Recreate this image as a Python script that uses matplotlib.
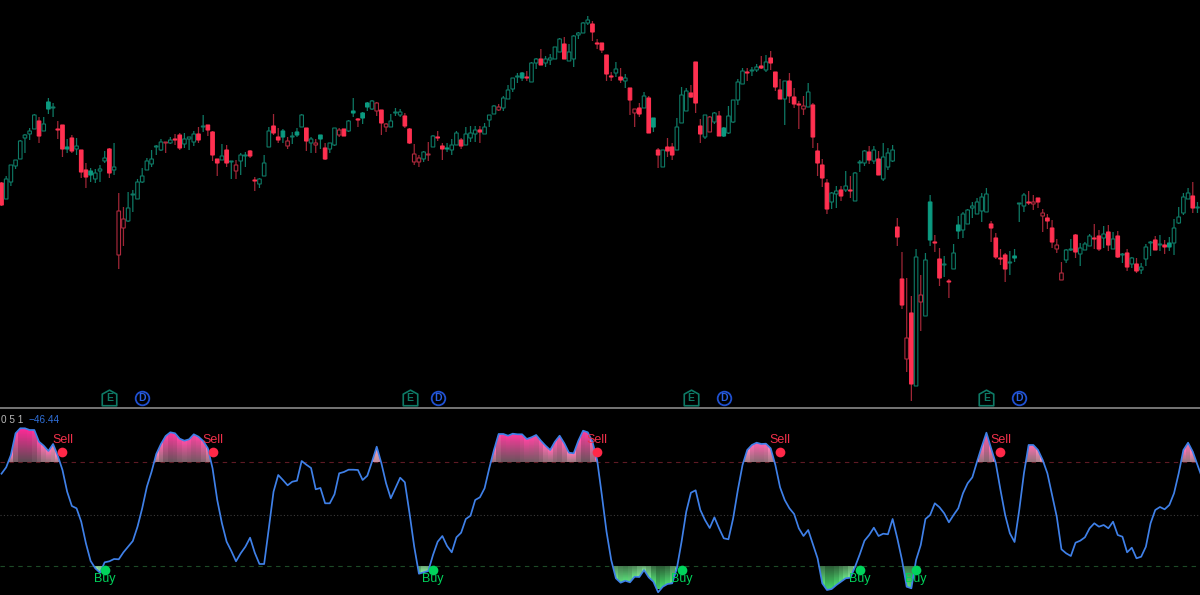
import numpy as np
import matplotlib
matplotlib.use('Agg')
import matplotlib.pyplot as plt
from matplotlib.path import Path
from matplotlib.patches import PathPatch

plt.rcParams['font.family'] = ['Liberation Sans', 'DejaVu Sans']

# Candles: body top / bottom, wick high / low
# kinds: G hollow green, g solid green, R solid red, r hollow red
body_top = [217,221,235,240,259,265,269,285,279,276, 298,293,271,275,253,262,254,250,230,229,
            227,231,242,251,233,189,181,192,206,218, 224,239,241,254,258,258,260,261,265,261,
            263,266,266,274,275,268,241,244,250,239, 235,245,245,249,220,221,237,269,274,263,
            269,259,264,268, 285,272,261,257,265,252,257,272,270,271,
            279,289,281,287,297,299,297,290,276,279, 288,288,284,271,246,242,248,246,264,263,
            254,252,255,267,260,266,267,270,270,273, 285,294,293,302,310,322,324,327,323,337,
            341,341,341,342,353,361,356,348,364,367, 377,380,376,357,
            357,345,324,331,323,322,312,291,292,304, 302,282,250,250,253,253,273,305,309,307,
            338,274,285,283,287,284,272,284,300,318, 329,328,330,333,334,338,342,328,310,319,
            319,303,296,294,308,295,249,235,217,207, 209,210,214,210,227,238,249,248,250,241,
            243,247,250,
            173,121,62,87,143,105,140,198,158,141, 136,119,147,175,186,190,194,198,203,206,
            176,162,142,145,138,144,197,205,198,198, 202,187,182,172,155,127,150,151,165,152,
            156,164,162,164,166,168,161,164,146,147, 142,136,133,153,158,160,156,155,157,172,
            183,203,207,204,193]
body_bot = [195,201,218,234,241,262,266,271,264,269, 291,292,270,251,251,249,251,228,223,225,
            221,229,239,227,230,145,172,179,205,201, 218,230,236,253,250,257,257,260,252,256,
            261,258,260,273,270,245,237,240,237,238, 229,239,244,244,219,216,224,253,267,260,
            263,254,263,265, 273,259,257,255,261,241,251,255,265,264,
            269,287,280,282,293,291,289,277,273,273, 287,285,274,257,238,238,241,245,253,262,
            251,251,250,255,254,255,262,266,268,266, 280,286,290,292,301,311,323,322,322,318,
            337,335,337,340,341,348,341,339,341,365, 367,377,368,356,
            350,326,323,327,320,319,300,287,286,292, 267,273,245,233,249,245,250,277,289,303,
            297,266,263,268,278,264,264,267,278,300, 316,327,329,330,332,330,337,313,301,301,
            304,296,295,291,293,263,237,222,191,198, 206,204,210,209,199,237,237,240,239,225,
            221,233,239,
            163,95,41,16,14,98,84,160,157,122, 135,118,131,169,170,176,192,186,189,188,
            172,143,141,131,137,142,196,194,197,196, 198,184,179,158,151,120,140,150,148,146,
            150,154,161,151,162,155,151,143,145,133, 136,129,130,141,157,150,155,153,153,157,
            177,187,201,192,192]
wick_high = [218,224,235,240,260,266,272,286,283,283, 302,297,279,275,261,265,262,250,237,232,
             231,235,249,252,257,207,193,208,210,221, 232,242,250,255,261,258,263,266,267,267,
             263,269,273,285,275,269,241,256,255,239, 240,247,248,250,223,222,245,273,286,272,
             271,263,268,272, 286,272,263,261,265,257,257,272,272,271,
             280,302,282,288,298,300,298,290,277,286, 292,291,287,272,256,245,249,258,265,269,
             257,257,261,269,262,273,274,274,274,277, 285,295,296,304,315,322,327,328,329,338,
             342,351,344,346,353,362,363,356,365,368, 378,384,379,361,
             357,345,328,338,332,326,312,291,297,308, 304,282,252,250,262,257,282,313,312,315,
             338,281,285,284,288,289,273,294,300,321, 332,332,333,336,344,345,349,328,321,319,
             327,312,299,304,317,297,257,241,221,208, 214,214,229,224,228,240,250,254,254,249,
             257,252,255,
             182,148,122,104,151,125,147,205,165,152, 144,121,156,184,188,191,198,202,207,212,
             179,167,151,147,149,151,197,207,209,205, 202,191,186,180,161,138,151,161,166,157,
             158,166,176,170,174,175,168,169,147,151, 143,142,137,156,159,164,165,160,163,181,
             193,207,212,218,198]
wick_low = [194,201,214,231,241,247,260,271,257,269, 286,283,261,243,247,247,245,222,212,218,
            217,218,237,222,225,131,154,178,188,201, 217,230,233,245,249,247,256,255,250,252,
            250,254,257,268,264,239,224,240,233,221, 221,225,233,242,209,212,224,253,265,257,
            257,251,256,263, 273,249,247,247,251,240,247,254,263,264,
            268,283,273,276,289,290,284,265,268,273, 284,283,272,256,235,233,238,239,253,259,
            240,248,245,255,251,255,258,258,257,266, 273,286,289,289,301,308,317,319,319,318,
            331,335,333,335,341,348,341,339,333,361, 367,375,359,351,
            347,319,319,323,317,312,285,273,283,292, 267,268,232,233,243,240,250,277,289,302,
            287,257,261,268,276,264,263,266,277,295, 316,319,324,328,331,328,330,309,301,275,
            297,292,271,285,293,252,224,213,186,191, 192,199,208,202,199,228,234,236,236,225,
            219,230,238,
            154,91,28,-1,14,69,84,154,148,114, 123,102,131,161,162,176,182,186,178,188,
            158,141,135,118,125,138,178,188,195,190, 192,168,171,152,147,120,137,149,142,134,
            150,154,151,149,152,149,151,142,137,129, 132,127,126,134,144,150,149,146,149,145,
            176,185,201,187,187]
kinds = ('RGGGGGGGRG' 'gGRRgRGRRg' 'GGGRGrrGGG' 'GGGGGrGRRG' 'GGRGRRRGRG' 'rGGRRGGGRR' 'grGg'
         'GRGrgRGGrR' 'GgRggGrRrG' 'GGRRrrGrGR' 'RgGGRGGGRG' 'GGrGGGGgRG' 'GRGGGGRGGG' 'GGRR'
         'RRRGRGRrRG' 'RgRGRRGGGR' 'RRGrGRgGGG' 'GRGGRGRRRG' 'RRRrGRRRRG' 'GRGRGGGRGR' 'GGG'
         'RRrRGrGgRR' 'GRGgGGGGGG' 'RRRRGgGGRr' 'RrRRrrGGRG' 'GGRRGRGRGR' 'GRGGGRGRgG' 'GGGRG')

# Oscillator, one value per candle plus the last point cut off at the right edge
osc = [121.3,127.7,140,161.7,166.7,166.7,165,165,153.3,149.3,
       144,151,139.3,125,103.3,89,86.7,73.3,51.7,34,
       26.7,22.3,32.7,33.7,36,35.7,42.7,48.3,54,68.3,
       86.7,108.3,123.3,141,151,159,162.7,161.7,156.3,154.3,
       155.7,160.7,158.3,154,146.7,126.7,95,71.7,53.3,44,
       33.7,41.7,48.3,57.3,42.3,31,31,66.7,103.3,120,
       115,109.7,113.3,114.3,
       134,130.3,127,105.7,107,91.7,91.7,100.7,121.7,123,
       125.3,125.3,125,115,119.3,133.3,148.3,131.7,111.7,96.7,
       107,117.3,112.7,81.7,48.3,21.3,22.7,24,40,53.3,
       59,49,42.7,57.7,62.3,76,79.3,95,97.7,106.7,
       126.7,145,161,161,159.3,161.3,160.7,160.7,156,157.7,
       160,154.3,149.3,145,153.3,159.3,151.7,142.3,141.7,154.3,
       164.3,162.7,153.3,135,
       100,63.3,35,16.7,12.3,14.3,12.7,18.3,18,25,
       17.7,13.3,2.7,8.3,11,11.7,26.7,53.3,83.3,102.3,
       104.7,85,75,67,77.7,66.7,56.7,55.7,76.7,105,
       130,145,150,152.3,151,151.3,146.7,130,107.7,95,
       86.7,81,66.7,59,65,51,36.7,11.7,5,6,
       10,13.3,16.7,17.3,28.3,40.7,54.3,60,67.3,59,
       61.3,60.7,76,56.7,35,
       8.3,6.7,35,50,76,80,91.7,87.7,81.7,72.7,
       80,86.7,101.7,111.7,117.7,133.3,148.3,162.3,146.7,131.7,
       105,80,61.7,53,85,121.7,150,150,145,135,
       121.7,100,78.3,45.7,41.7,39,52.3,54.3,57.7,66.7,
       71.7,68.3,70,66.7,73.3,60,58.3,42.7,47.3,36.7,
       38.3,48.3,71.7,85,88,85.7,90,101.7,121.7,145,
       152.3,143.3,130,117]

level_high = 133
level_mid = 80.5
level_low = 29

sell_idx = [13, 45, 127, 166, 213]
buy_idx = [22, 92, 145, 183, 195]
sell_level = 143
buy_level = 25

earnings_idx = [23, 87, 147, 210]
dividend_idx = [30, 93, 154, 217]
event_level = 2.5

red = '#ff3050'
red_wick = '#a02636'
red_hollow = '#b02a3e'
green = '#0b9a80'
green_line = '#0e7a66'
blue = '#3f80e8'

fig = plt.figure(figsize=(12, 5.95), dpi=100, facecolor='black')
ax = fig.add_axes([0, 188 / 595, 1, 407 / 595], facecolor='black')
ax2 = fig.add_axes([0, 0, 1, 186.5 / 595], facecolor='black')

x_min, x_max = -0.32, 255.54
ax.set_xlim(x_min, x_max)
ax.set_ylim(-7, 400)
ax2.set_xlim(x_min, x_max)
ax2.set_ylim(0, 186.5)

# Candles
x = np.arange(len(kinds))
wick_colors = [red_wick if k in 'Rr' else green_line for k in kinds]
wicks = ax.vlines(x, wick_low, wick_high, colors=wick_colors, linewidth=0.9)
wicks.set_snap(False)
face = {'R': red, 'r': 'black', 'G': 'black', 'g': green}
edge = {'R': red, 'r': red_hollow, 'G': green_line, 'g': green}
heights = np.array(body_top) - np.array(body_bot)
bars = ax.bar(x, heights, bottom=body_bot, width=0.76,
              color=[face[k] for k in kinds], edgecolor=[edge[k] for k in kinds],
              linewidth=0.8, zorder=3)
for b in bars:
    b.set_snap(False)

# Earnings and dividend badges
house = Path([(-1, -1), (1, -1), (1, 0.6), (0, 1.15), (-1, 0.6), (-1, -1)], closed=True)
ax.plot(earnings_idx, [event_level] * 4, ls='none', marker=house, ms=12, mfc='none',
        mec=green_line, mew=1.2, zorder=4)
ax.plot(dividend_idx, [event_level] * 4, ls='none', marker='o', ms=9.8, mfc='none',
        mec='#1f50d0', mew=1.3, zorder=4)
for i in earnings_idx:
    ax.text(i, event_level - 0.5, 'E', color=green_line, fontsize=7.5, fontweight='bold',
            ha='center', va='center', zorder=5)
for i in dividend_idx:
    ax.text(i, event_level - 0.5, 'D', color='#2a5fe0', fontsize=7.5, fontweight='bold',
            ha='center', va='center', zorder=5)

# Level lines
ax2.axhline(level_high, color='#5e1a24', lw=0.8, ls=(0, (4, 4)))
ax2.axhline(level_mid, color='#3c3c3c', lw=0.8, ls=(0, (1, 2)))
ax2.axhline(level_low, color='#1d4a26', lw=0.8, ls=(0, (4, 4)))

# Gradient zones, one band per candle clipped to the area between level and line
osc_arr = np.array(osc)
osc_x = np.arange(len(osc))


def mix(c1, c2, t):
    c1 = np.array(matplotlib.colors.to_rgb(c1))
    c2 = np.array(matplotlib.colors.to_rgb(c2))
    return c1 + (c2 - c1) * t


def gradient_zone(level, far, where, tip_full, tip_pale, base_full, base_pale):
    vals = np.linspace(level, far, 80)
    img = np.zeros((len(vals), len(osc), 3))
    span = abs(far - level)
    for col, v in enumerate(osc_arr):
        # shade from the wider neighbourhood so bands change softly
        near = osc_arr[max(col - 1, 0):col + 2]
        t = min(np.abs(near - level).mean() / span * 1.1, 1) ** 0.7
        tip = mix(tip_pale, tip_full, t)
        base = mix(base_pale, base_full, t)
        h = max(abs(v - level), 1)
        frac = np.clip(np.abs(vals - level) / h, 0, 1)[:, None]
        img[:, col, :] = base + (tip - base) * frac
    poly = ax2.fill_between(osc_x, level, osc_arr, where=where, interpolate=True,
                            facecolor='none', edgecolor='none')
    clip = Path.make_compound_path(*poly.get_paths())
    im = ax2.imshow(img, extent=[-0.5, len(osc) - 0.5, level, far], origin='lower',
                    aspect='auto', interpolation='nearest', zorder=2)
    im.set_clip_path(PathPatch(clip, transform=ax2.transData))


gradient_zone(level_high, 168, osc_arr > level_high, '#ff2a98', '#ffd4d8', '#5c4a52', '#e8b0b8')
gradient_zone(level_low, 6, osc_arr < level_low, '#44d868', '#c4f7c8', '#2c5c36', '#a0e8a8')
ax2.set_xlim(x_min, x_max)
ax2.set_ylim(0, 186.5)

# Oscillator line
ax2.plot(osc_x, osc, color=blue, lw=1.25, zorder=3, solid_joinstyle='round')

# Signals
ax2.plot(sell_idx, [sell_level] * 5, ls='none', marker='o', ms=7, color='#ff2848', mew=0, zorder=5)
ax2.plot(buy_idx, [buy_level] * 5, ls='none', marker='o', ms=7, color='#00d45c', mew=0, zorder=5)
for i in sell_idx:
    ax2.text(i, sell_level + 12, 'Sell', color='#f0304a', fontsize=9, ha='center', va='center', zorder=6)
for i in buy_idx:
    ax2.text(i, buy_level - 9, 'Buy', color='#00d45c', fontsize=9, ha='center', va='center', zorder=6)

# Indicator header
ax2.text(0.0012, 0.94, '0 5 1', transform=ax2.transAxes, color='#b8b8b8', fontsize=7.2, va='center')
ax2.text(0.0235, 0.94, '\u221246.44', transform=ax2.transAxes, color='#2f6fd8', fontsize=7.2, va='center')

for a in (ax, ax2):
    a.set_xticks([])
    a.set_yticks([])
    for s in a.spines.values():
        s.set_visible(False)

# Separator between panels
fig.add_artist(plt.Line2D([0, 1], [187.3 / 595, 187.3 / 595], color='#8a8a8a', lw=1.2))

fig.savefig('out.png', dpi=100, facecolor='black')
